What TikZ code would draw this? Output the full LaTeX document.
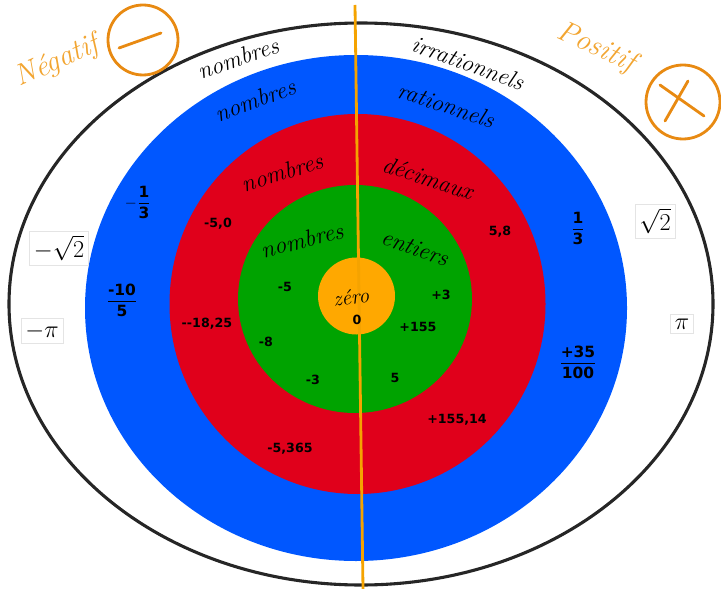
\documentclass[tikz,border=0pt]{standalone}
\usepackage{fontspec}
\usepackage{amsmath}
\usepackage{tikz}
\usetikzlibrary{positioning}
\newfontfamily\numfont{DejaVu Sans}
\definecolor{ringBlue}{HTML}{0057FF}
\definecolor{ringRed}{HTML}{E0001B}
\definecolor{ringGreen}{HTML}{00A300}
\definecolor{ringZero}{HTML}{FFA800}
\definecolor{axisLine}{HTML}{F5A300}
\definecolor{signMark}{HTML}{E88A12}
\definecolor{signText}{HTML}{F2A531}
\definecolor{boxEdge}{HTML}{E4E4E4}
\newcommand{\nfrac}[2]{\dfrac{\hbox{\numfont\bfseries #1}}{\hbox{\numfont\bfseries #2}}}

\begin{document}
\begin{tikzpicture}[x=0.025cm, y=-0.025cm, word/.style={font=\fontsize{17}{20}\selectfont\itshape, inner sep=1pt}, num/.style={font=\numfont\bfseries\fontsize{9}{11}\selectfont, inner sep=1pt}, fr/.style={font=\fontsize{11}{13}\selectfont, inner sep=1pt}, irr/.style={draw=boxEdge, fill=white, font=\fontsize{19}{22}\selectfont, inner sep=3pt}, sgn/.style={font=\fontsize{21}{24}\selectfont\itshape, text=signText}, ring/.style={draw=signMark, line width=2pt, line cap=round}]
\useasboundingbox (0,0) rectangle (721,589);
\draw[line width=2.2pt, draw=black!85] (361,304) ellipse [x radius=352, y radius=281];
\fill[ringBlue] (356,308) ellipse [x radius=271, y radius=253];
\fill[ringRed] (357.5,304) ellipse [x radius=188, y radius=190];
\fill[ringGreen] (355,299) ellipse [x radius=117, y radius=114];
\fill[ringZero] (356.5,296) circle [radius=38.5];
\draw[axisLine, line width=2pt] (355,5) -- (363,589);
\draw[ring] (143,40) circle [radius=35]; \draw[ring] (119,48) -- (161,33);
\draw[ring] (683,102) circle [radius=37]; \draw[ring] (660,85) -- (704,116); \draw[ring] (688,81) -- (665,121);
\node[sgn, rotate=24] (negatif) at (57,62) {Négatif};
\node[sgn, rotate=-25] (positif) at (596,48) {Positif};
\node[word, rotate=19] (nbOut) at (238,58) {nombres};
\node[word, rotate=-20] (irrat) at (468,63) {irrationnels};
\node[word, rotate=20] (nbBlue) at (255,100) {nombres};
\node[word, rotate=-18] (rat) at (446,105) {rationnels};
\node[word, rotate=17] (nbRed) at (282,172) {nombres};
\node[word, rotate=-18] (dec) at (428,178) {décimaux};
\node[word, rotate=14] (nbGreen) at (302,240) {nombres};
\node[word, rotate=-19] (ent) at (415,248) {entiers};
\node[word, rotate=8, font=\fontsize{15}{18}\selectfont\itshape] (zero) at (351,297) {zéro};
\node[num] (z0) at (357,320) {0};
\node[num] (a1) at (218,224) {-5,0}; \node[num] (a2) at (285,287) {-5}; \node[num] (a3) at (207,324) {--18,25}; \node[num] (a4) at (266,342) {-8}; \node[num] (a5) at (313,380) {-3}; \node[num] (a6) at (290,449) {-5,365};
\node[num] (b1) at (500,232) {5,8}; \node[num] (b2) at (441,295) {+3}; \node[num] (b3) at (418,327) {+155}; \node[num] (b4) at (395,378) {5}; \node[num] (b5) at (457,420) {+155,14};
\node[fr] (f1) at (138,202) {$-\nfrac{1}{3}$}; \node[fr] (f2) at (122,300) {$\nfrac{-10}{5}$};
\node[fr] (f3) at (578,228) {$\nfrac{1}{3}$}; \node[fr] (f4) at (578,362) {$\nfrac{+35}{100}$};
\node[irr] (i1) at (59,248) {$-\sqrt{2}$}; \node[irr] (i2) at (42,331) {$-\pi$};
\node[irr] (i3) at (655,221) {$\sqrt{2}$}; \node[irr] (i4) at (682,324) {$\pi$};
\end{tikzpicture}
\end{document}
